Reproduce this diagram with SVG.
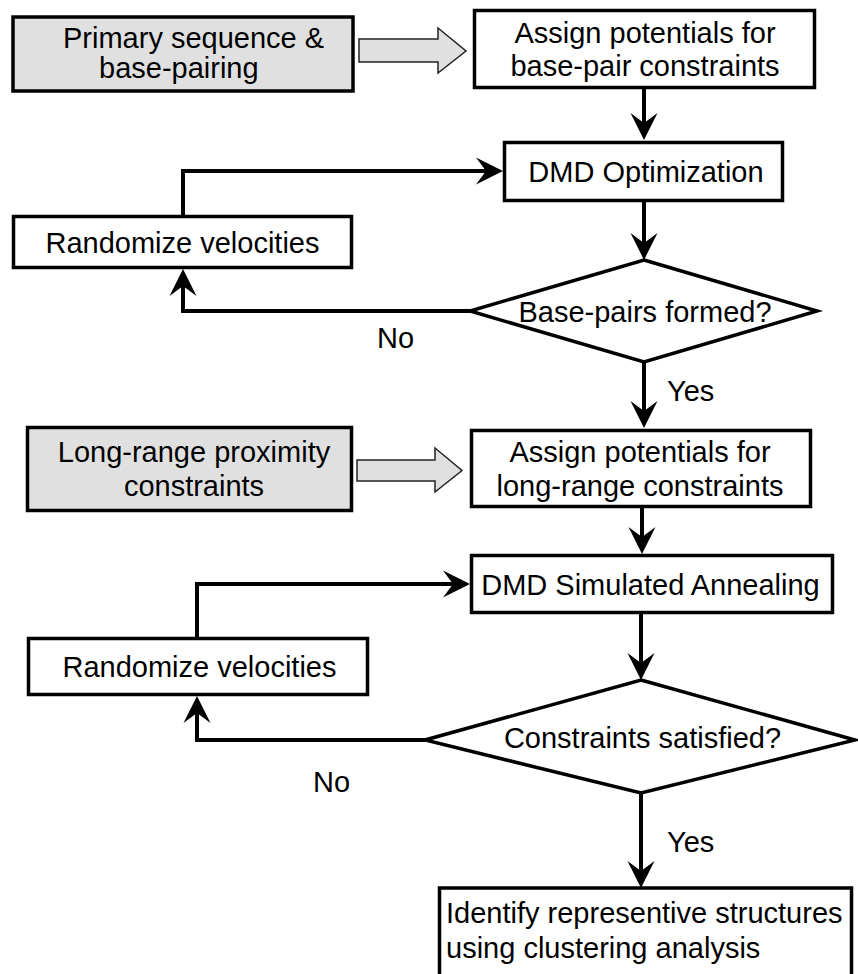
<svg xmlns="http://www.w3.org/2000/svg" width="858" height="974" viewBox="0 0 858 974">
<style>
  .box { fill: #ffffff; stroke: #000000; stroke-width: 3.5; }
  .src { fill: #e0e0e0; stroke: #000000; stroke-width: 3.5; }
  .hollow { fill: #e0e0e0; stroke: #222222; stroke-width: 1.5; stroke-linejoin: miter; }
  .conn { fill: none; stroke: #000000; stroke-width: 4; stroke-linejoin: miter; }
  text { font-family: "Liberation Sans", Arial, sans-serif; font-size: 29px; fill: #000000; }
  .c { text-anchor: middle; }
</style>
<defs>
  <marker id="arr" viewBox="-28 -15 30 30" refX="-15" refY="0" markerWidth="30" markerHeight="30" markerUnits="userSpaceOnUse" orient="auto">
    <path d="M0,0 L-27,-13.5 L-17,0 L-27,13.5 Z" fill="#000000"/>
  </marker>
</defs>

<g id="connectors">
  <path class="conn" d="M644,89 V125" marker-end="url(#arr)"/>
  <path class="conn" d="M183,215 V171 H488" marker-end="url(#arr)"/>
  <path class="conn" d="M644,202 V245" marker-end="url(#arr)"/>
  <path class="conn" d="M470,311 H183 V284" marker-end="url(#arr)"/>
  <path class="conn" d="M644,362 V413" marker-end="url(#arr)"/>
  <path class="conn" d="M642,508 V539" marker-end="url(#arr)"/>
  <path class="conn" d="M197,637 V584 H455" marker-end="url(#arr)"/>
  <path class="conn" d="M641,614 V665" marker-end="url(#arr)"/>
  <path class="conn" d="M425,740 H197 V711" marker-end="url(#arr)"/>
  <path class="conn" d="M641,793 V873" marker-end="url(#arr)"/>
  <polygon class="hollow" points="359,39 438,39 438,28 466,51 438,73 438,62 359,62"/>
  <polygon class="hollow" points="357,460 435,460 435,448 462,470.5 435,492 435,481 357,481"/>
  <text x="377" y="348">No</text>
  <text x="667" y="401">Yes</text>
  <text x="313" y="792">No</text>
  <text x="667" y="852">Yes</text>
</g>

<g id="primary">
  <rect class="src" x="13" y="17" width="340" height="74"/>
  <text x="63" y="48">Primary sequence &amp;</text>
  <text x="99" y="78">base-pairing</text>
</g>

<g id="assign-bp">
  <rect class="box" x="474.5" y="10.5" width="340" height="77"/>
  <text class="c" x="645" y="43">Assign potentials for</text>
  <text class="c" x="645" y="76">base-pair constraints</text>
</g>

<g id="dmd-opt">
  <rect class="box" x="504.5" y="142.5" width="278" height="58"/>
  <text class="c" x="646" y="182">DMD Optimization</text>
</g>

<g id="randomize-1">
  <rect class="box" x="13.5" y="216.5" width="338" height="51"/>
  <text class="c" x="182.5" y="252.5">Randomize velocities</text>
</g>

<g id="bp-formed">
  <polygon class="box" points="644,260 817,311 644,362 470,311"/>
  <text class="c" x="645" y="322">Base-pairs formed?</text>
</g>

<g id="long-range">
  <rect class="src" x="27.5" y="427.5" width="324" height="83"/>
  <text class="c" x="194" y="462">Long-range proximity</text>
  <text class="c" x="194" y="496">constraints</text>
</g>

<g id="assign-lr">
  <rect class="box" x="471.5" y="430.5" width="339" height="76"/>
  <text class="c" x="640" y="462">Assign potentials for</text>
  <text class="c" x="640" y="496">long-range constraints</text>
</g>

<g id="dmd-sa">
  <rect class="box" x="471.5" y="555.5" width="361" height="57"/>
  <text class="c" x="650.5" y="595">DMD Simulated Annealing</text>
</g>

<g id="randomize-2">
  <rect class="box" x="28.5" y="638.5" width="339" height="56"/>
  <text class="c" x="199.5" y="677">Randomize velocities</text>
</g>

<g id="constraints-satisfied">
  <polygon class="box" points="641,680 855,740 641,793 425,740"/>
  <text class="c" x="642.5" y="748">Constraints satisfied?</text>
</g>

<g id="identify">
  <rect class="box" x="439.5" y="888" width="412" height="100"/>
  <text x="446" y="923">Identify representive structures</text>
  <text x="446" y="958">using clustering analysis</text>
</g>
</svg>
